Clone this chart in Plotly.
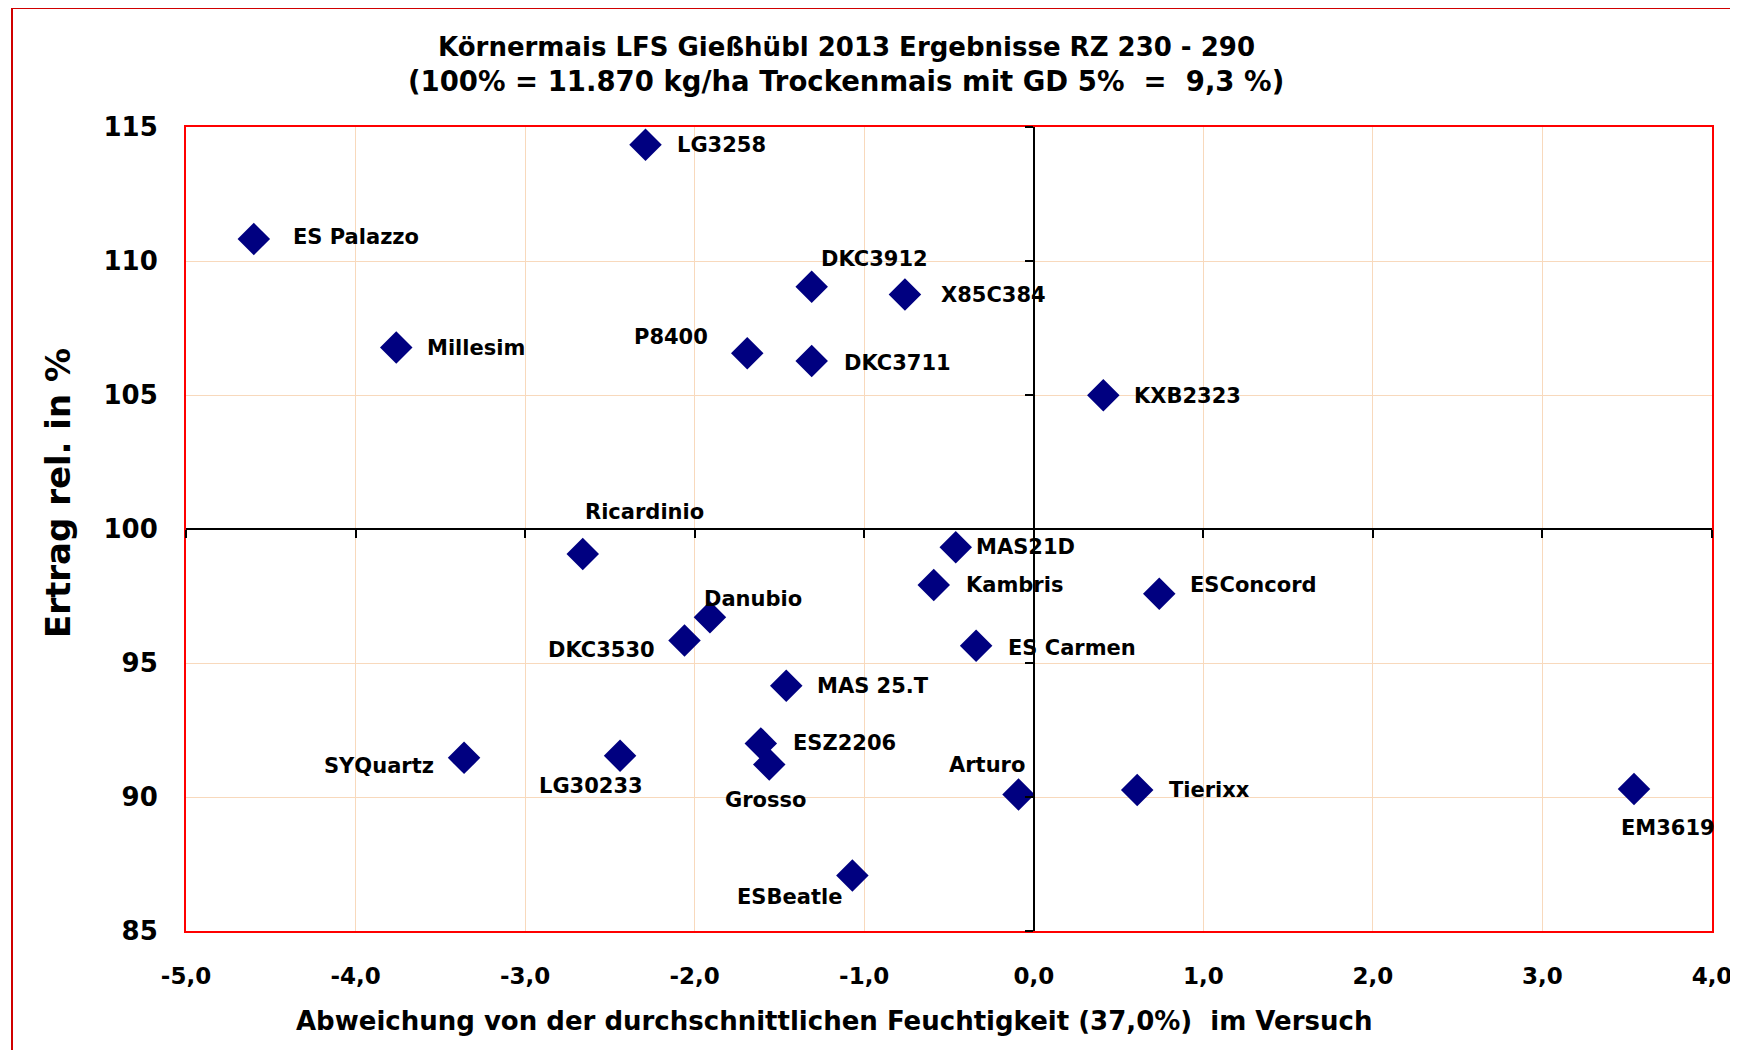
import plotly.graph_objects as go

# ---- data ----
sorten = ["LG3258", "ES Palazzo", "Millesim", "DKC3912", "X85C384", "P8400", "DKC3711",
          "KXB2323", "Ricardinio", "MAS21D", "Kambris", "ESConcord", "Danubio", "DKC3530",
          "ES Carmen", "MAS 25.T", "ESZ2206", "Grosso", "SYQuartz", "LG30233", "Arturo",
          "Tierixx", "EM3619", "ESBeatle"]
feuchte_abw = [-2.29, -4.60, -3.76, -1.31, -0.76, -1.69, -1.31,
               0.41, -2.66, -0.46, -0.59, 0.74, -1.91, -2.06,
               -0.34, -1.46, -1.61, -1.56, -3.36, -2.44, -0.09,
               0.61, 3.54, -1.07]
ertrag_rel = [114.34, 110.82, 106.77, 109.04, 108.75, 106.56, 106.27,
              104.99, 99.07, 99.32, 97.91, 97.58, 96.71, 95.84,
              95.64, 94.15, 92.00, 91.21, 91.46, 91.54, 90.09,
              90.26, 90.30, 87.07]
x_ticks = [-5, -4, -3, -2, -1, 0, 1, 2, 3, 4]
x_ticklabels = ["-5,0", "-4,0", "-3,0", "-2,0", "-1,0", "0,0", "1,0", "2,0", "3,0", "4,0"]
y_ticks = [85, 90, 95, 100, 105, 110, 115]
title_lines = ["Körnermais LFS Gießhübl 2013 Ergebnisse RZ 230 - 290",
               "(100% = 11.870 kg/ha Trockenmais mit GD 5%  =  9,3 %)"]

# ---- label placement (style: pixel offsets, anchor) ----
label_style = {
    "LG3258": (29, 0, "left"), "ES Palazzo": (37, 2, "left"), "Millesim": (29, 0, "left"),
    "DKC3912": (7, 28, "left"), "X85C384": (34, 0, "left"), "P8400": (-37, 16, "right"),
    "DKC3711": (30, -2, "left"), "KXB2323": (29, -1, "left"), "Ricardinio": (0, 42, "left"),
    "MAS21D": (18, 0, "left"), "Kambris": (30, 0, "left"), "ESConcord": (29, 9, "left"),
    "Danubio": (-8, 18, "left"), "DKC3530": (-27, -10, "right"), "ES Carmen": (30, -2, "left"),
    "MAS 25.T": (29, 0, "left"), "ESZ2206": (30, 0, "left"), "Grosso": (-4, -35, "center"),
    "SYQuartz": (-28, -8, "right"), "LG30233": (-29, -30, "center"), "Arturo": (-32, 30, "center"),
    "Tierixx": (30, 0, "left"), "EM3619": (34, -39, "center"), "ESBeatle": (-63, -21, "center"),
}

FONT = "DejaVu Sans"
GRID = "#F8D9BC"
NAVY = "#000080"

# page offset of the figure inside the html body (default body margin)
OFF = 8
W, H = 1738, 1050
# target plot-area edges on the page
PL, PR, PT, PB = 186, 1712, 127, 931
L, T = PL - OFF, PT - OFF
R, B = W - (PR - OFF), H - (PB - OFF)


def px_to_paper(xp, yp):
    """page pixel -> paper coordinates"""
    x = (xp - OFF - L) / (W - L - R)
    y = 1 - (yp - OFF - T) / (H - T - B)
    return x, y


fig = go.Figure()
fig.add_trace(go.Scatter(
    x=feuchte_abw, y=ertrag_rel, mode="markers",
    marker=dict(symbol="diamond", size=25, color=NAVY, line=dict(width=0)),
    showlegend=False, hoverinfo="text", text=sorten,
))

annotations = []
for name, xv, yv in zip(sorten, feuchte_abw, ertrag_rel):
    dx, dy, anc = label_style[name]
    annotations.append(dict(
        x=xv, y=yv, xref="x", yref="y", text=name, showarrow=False,
        xshift=dx, yshift=dy, xanchor=anc, yanchor="middle",
        font=dict(family=FONT, size=21, color="black", weight="bold"),
    ))

ax, ay = px_to_paper(834, 1021)
annotations.append(dict(
    x=ax, y=ay, xref="paper", yref="paper",
    text="Abweichung von der durchschnittlichen Feuchtigkeit (37,0%)  im Versuch",
    showarrow=False, xanchor="center", yanchor="middle",
    font=dict(family=FONT, size=26, color="black", weight="bold"),
))
bx, by = px_to_paper(58, 493)
annotations.append(dict(
    x=bx, y=by, xref="paper", yref="paper", text="Ertrag rel. in %",
    showarrow=False, textangle=-90, xanchor="center", yanchor="middle",
    font=dict(family=FONT, size=34, color="black", weight="bold"),
))
# title lines
for line, ycen, fsize in [(title_lines[0], 47, 26), (title_lines[1], 81, 27.5)]:
    lx, ly = px_to_paper(846, ycen)
    annotations.append(dict(
        x=lx, y=ly, xref="paper", yref="paper", text=line, showarrow=False,
        xanchor="center", yanchor="middle",
        font=dict(family=FONT, size=fsize, color="black", weight="bold"),
    ))

ox0, oy0 = px_to_paper(12, H + 30)
ox1, oy1 = px_to_paper(W + 30, 8)

fig.update_layout(
    width=W, height=H,
    margin=dict(l=L, r=R, t=T, b=B),
    paper_bgcolor="white", plot_bgcolor="white",
    font=dict(family=FONT, color="black"),
    xaxis=dict(
        range=[-5, 4], tickvals=x_ticks, ticktext=x_ticklabels,
        showgrid=True, gridcolor=GRID, gridwidth=1, zeroline=False,
        showline=True, linecolor="red", linewidth=2, mirror=True,
        ticks="outside", ticklen=23, tickcolor="rgba(0,0,0,0)",
        tickfont=dict(family=FONT, size=23, color="black", weight="bold"),
        domain=[0, 1],
    ),
    yaxis=dict(
        range=[85, 115], tickvals=y_ticks,
        showgrid=True, gridcolor=GRID, gridwidth=1, zeroline=False,
        showline=True, linecolor="red", linewidth=2, mirror=True,
        ticks="outside", ticklen=21, tickcolor="rgba(0,0,0,0)",
        tickfont=dict(family=FONT, size=26, color="black", weight="bold"),
        domain=[0, 1],
    ),
    xaxis2=dict(
        overlaying="x", anchor="free", position=0.5, range=[-5, 4], tickvals=x_ticks,
        showticklabels=False, showgrid=False, zeroline=False,
        showline=True, linecolor="black", linewidth=2,
        ticks="outside", ticklen=8, tickcolor="black", tickwidth=1.5,
    ),
    yaxis2=dict(
        overlaying="y", anchor="free", position=5 / 9, range=[85, 115], tickvals=y_ticks,
        showticklabels=False, showgrid=False, zeroline=False,
        showline=True, linecolor="black", linewidth=1.5,
        ticks="outside", ticklen=8, tickcolor="black", tickwidth=1.5,
    ),
    annotations=annotations,
    shapes=[dict(
        type="rect", xref="paper", yref="paper",
        x0=ox0, x1=ox1, y0=oy0, y1=oy1,
        line=dict(color="#D00000", width=2), fillcolor="rgba(0,0,0,0)", layer="below",
    )],
)

# empty trace bound to the crossing axes so that they are drawn
fig.add_trace(go.Scatter(x=[None], y=[None], xaxis="x2", yaxis="y2",
                         showlegend=False, hoverinfo="skip"))

fig.write_html("out.html")
